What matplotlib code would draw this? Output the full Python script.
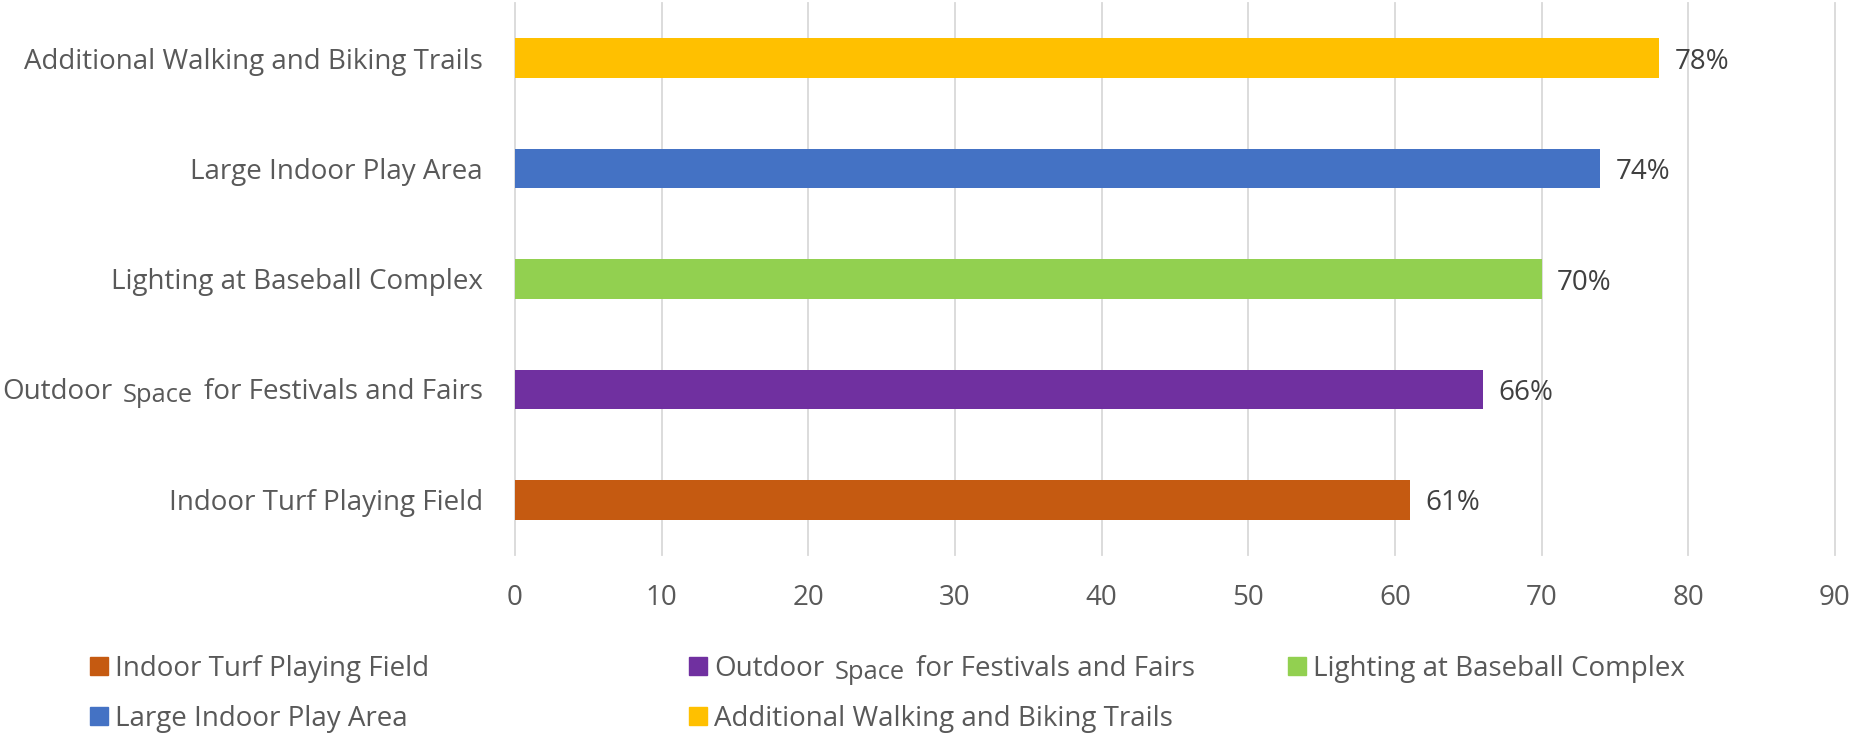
"""Horizontal bar chart of amenity support, Excel-style."""

import matplotlib
matplotlib.use('Agg')
import matplotlib.pyplot as plt
from matplotlib.patches import Rectangle
from matplotlib.transforms import IdentityTransform

# Data (bottom to top)
CATEGORIES = [
    "Indoor Turf Playing Field",
    "Outdoor Space for Festivals and Fairs",
    "Lighting at Baseball Complex",
    "Large Indoor Play Area",
    "Additional Walking and Biking Trails",
]
VALUES = [61, 66, 70, 74, 78]
BAR_COLORS = ["#C55A11", "#7030A0", "#92D050", "#4472C4", "#FFC000"]
X_TICKS = [0, 10, 20, 30, 40, 50, 60, 70, 80, 90]

# Label with the smaller, lowered "Space" word: (text, size scale, drop px)
OUTDOOR_PIECES = [("Outdoor", 1.0, 0), ("Space", 0.92, 3), ("for Festivals and Fairs", 1.0, 0)]
OUTDOOR_INDEX = 1

# Style
FONT = "Open Sans"
FS = 20
TEXT_COLOR = "#595959"
VALUE_COLOR = "#404040"
GRID_COLOR = "#D9D9D9"
W, H, DPI = 18.53, 7.33, 100

plt.rcParams['font.family'] = [FONT, 'DejaVu Sans']

fig = plt.figure(figsize=(W, H), dpi=DPI)
ax = fig.add_axes([515 / 1853, 1 - 555 / 733, (1835 - 515) / 1853, 552 / 733])

y = list(range(len(CATEGORIES)))
bars = ax.barh(y, VALUES, height=0.36, color=BAR_COLORS, zorder=3)
value_texts = ax.bar_label(bars, labels=[f"{v}%" for v in VALUES], padding=11,
                           fontsize=FS, color=VALUE_COLOR)
for t in value_texts:
    t.set_va('center_baseline')

ax.set_xlim(0, 90)
ax.set_ylim(-0.5, len(CATEGORIES) - 0.5)
ax.set_xticks(X_TICKS)
ax.set_xticklabels([str(t) for t in X_TICKS], fontsize=FS, color=TEXT_COLOR)
ax.set_yticks(y)
labels = [c if i != OUTDOOR_INDEX else "" for i, c in enumerate(CATEGORIES)]
ax.set_yticklabels(labels, fontsize=FS, color=TEXT_COLOR)
ax.tick_params(axis='x', length=0, pad=21)
ax.tick_params(axis='y', length=0, pad=23)
ax.xaxis.grid(True, color=GRID_COLOR, linewidth=1.3, zorder=0)
for g in ax.get_xgridlines():
    g.set_clip_on(False)
ax.set_axisbelow(True)
for s in ax.spines.values():
    s.set_visible(False)

renderer = fig.canvas.get_renderer()
GAP = 11  # px between pieces


def draw_pieces(x0, y0, pieces, align="left"):
    """Draw text pieces in pixel coords, left or right aligned at x0."""
    texts = []
    for txt, scale, drop in pieces:
        t = fig.text(0, 0, txt, fontsize=FS * scale, color=TEXT_COLOR,
                     ha='left', va='baseline', transform=IdentityTransform())
        texts.append((t, drop))
    widths = [t.get_window_extent(renderer).width for t, _ in texts]
    total = sum(widths) + GAP * (len(widths) - 1)
    x = x0 - total if align == "right" else x0
    for (t, drop), w in zip(texts, widths):
        t.set_position((x, y0 - drop))
        x += w + GAP


# y-axis label for the "Outdoor" category
ax_left = ax.transAxes.transform((0, 0))[0]
y_center = ax.transData.transform((0, OUTDOOR_INDEX))[1]
draw_pieces(ax_left - 32, y_center - 10, OUTDOOR_PIECES, align="right")

# Manual legend (row-major like Excel)
col_x = [90, 689, 1288]
row_y = [666, 716]
fig_h = H * DPI
for i, (name, color) in enumerate(zip(CATEGORIES, BAR_COLORS)):
    r, c = divmod(i, 3)
    xp, yp = col_x[c], fig_h - row_y[r]
    fig.patches.append(Rectangle((xp, yp - 9), 18, 18, color=color,
                                 transform=IdentityTransform(), figure=fig))
    if i == OUTDOOR_INDEX:
        draw_pieces(xp + 25, yp - 10, OUTDOOR_PIECES)
    else:
        fig.text(xp + 25, yp - 10, name, fontsize=FS, color=TEXT_COLOR,
                 ha='left', va='baseline', transform=IdentityTransform())

fig.savefig("out.png", dpi=DPI, facecolor="white")
